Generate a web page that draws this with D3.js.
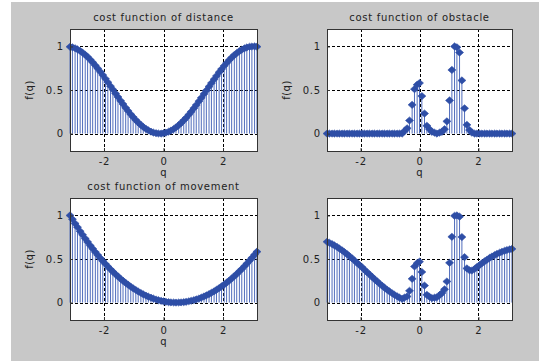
<!DOCTYPE html>
<html>
<head>
<meta charset="utf-8">
<script src="https://cdn.jsdelivr.net/npm/d3@7"></script>
<style>
  body { margin: 0; padding: 0; background: #fff; }
  svg text { font-family: "DejaVu Sans", "Liberation Sans", Arial, sans-serif; fill: #222; }
</style>
</head>
<body>
<svg id="fig" width="539" height="361"></svg>
<script>
// sample positions q (rad)
const qVals = [-3.14,-3.06,-2.97,-2.89,-2.80,-2.72,-2.63,-2.55,-2.46,-2.38,
  -2.29,-2.21,-2.12,-2.04,-1.95,-1.87,-1.78,-1.70,-1.61,-1.53,
  -1.44,-1.36,-1.27,-1.19,-1.10,-1.02,-0.93,-0.85,-0.76,-0.68,
  -0.59,-0.51,-0.42,-0.34,-0.25,-0.17,-0.08,0.00,0.08,0.17,
  0.25,0.34,0.42,0.51,0.59,0.68,0.76,0.85,0.93,1.02,
  1.10,1.19,1.27,1.36,1.44,1.53,1.61,1.70,1.78,1.87,
  1.95,2.04,2.12,2.21,2.29,2.38,2.46,2.55,2.63,2.72,
  2.80,2.89,2.97,3.06,3.14];

const distanceCost = [0.996,0.990,0.979,0.966,0.948,0.928,0.904,0.879,0.848,0.818,
  0.782,0.748,0.708,0.671,0.629,0.589,0.544,0.505,0.460,0.420,
  0.376,0.338,0.296,0.260,0.221,0.189,0.155,0.127,0.099,0.076,
  0.054,0.038,0.022,0.012,0.004,0.001,0.000,0.004,0.010,0.021,
  0.034,0.052,0.071,0.096,0.121,0.152,0.181,0.217,0.251,0.291,
  0.328,0.371,0.410,0.455,0.495,0.539,0.579,0.623,0.662,0.704,
  0.740,0.778,0.810,0.844,0.872,0.901,0.923,0.946,0.962,0.978,
  0.988,0.996,0.999,1.000,0.997];

const obstacleCost = [0,0,0,0,0,0,0,0,0,0,
  0,0,0,0,0,0,0,0,0,0,
  0,0,0,0,0,0,0,0,0,0,
  0,0.03,0.06,0.15,0.33,0.51,0.56,0.58,0.43,0.23,
  0.09,0.05,0.02,0.01,0,0.01,0.02,0.05,0.14,0.38,
  0.73,1.00,0.99,0.93,0.61,0.29,0.10,0.04,0.01,0,
  0,0,0,0,0,0,0,0,0,0,
  0,0,0,0,0];

const movementCost = [1.000,0.956,0.907,0.865,0.818,0.778,0.734,0.696,0.654,0.619,
  0.579,0.546,0.509,0.477,0.443,0.414,0.382,0.355,0.325,0.300,
  0.273,0.250,0.225,0.205,0.182,0.164,0.144,0.127,0.110,0.095,
  0.080,0.068,0.056,0.046,0.035,0.027,0.020,0.014,0.009,0.005,
  0.002,0.001,0.000,0.001,0.002,0.005,0.009,0.015,0.021,0.028,
  0.036,0.047,0.057,0.070,0.082,0.097,0.112,0.129,0.146,0.166,
  0.185,0.207,0.228,0.253,0.276,0.303,0.328,0.358,0.385,0.417,
  0.447,0.481,0.513,0.550,0.584];

const totalCost = [0.698,0.686,0.671,0.656,0.638,0.620,0.599,0.579,0.555,0.533,
  0.507,0.483,0.456,0.431,0.404,0.378,0.348,0.324,0.295,0.270,
  0.243,0.219,0.193,0.171,0.147,0.128,0.107,0.089,0.072,0.057,
  0.043,0.057,0.070,0.135,0.273,0.414,0.452,0.469,0.351,0.195,
  0.089,0.066,0.052,0.056,0.061,0.085,0.109,0.152,0.242,0.456,
  0.755,0.995,1.000,0.986,0.752,0.521,0.392,0.370,0.368,0.385,
  0.407,0.430,0.451,0.473,0.491,0.512,0.528,0.545,0.558,0.572,
  0.583,0.594,0.603,0.610,0.616];

const xTicks = [-2, 0, 2];
const yTicks = [0, 0.5, 1];
const yTickLabels = ["0", "0.5", "1"];

const titles = ["cost function of distance", "cost function of obstacle", "cost function of movement", ""];
const xLabels = ["q", "q", "q", ""];
const yLabels = ["f(q)", "f(q)", "f(q)", ""];
const series = [distanceCost, obstacleCost, movementCost, totalCost];

// panel boxes: left, top, width, height
const boxes = [
  [70, 29, 187, 122],
  [327, 29, 185, 122],
  [70, 198, 187, 122],
  [327, 198, 185, 122]
];

const svg = d3.select("#fig");
svg.append("rect").attr("x", 11).attr("y", 2).attr("width", 528).attr("height", 359).attr("fill", "#c8c8c8");

const markColor = "#2e4ea6";
const stemColor = "#3d5cb4";

boxes.forEach((b, i) => {
  const [left, top, w, h] = b;
  const x = d3.scaleLinear().domain([-Math.PI, Math.PI]).range([0, w]);
  const y = d3.scaleLinear().domain([-0.2, 1.2]).range([h, 0]);
  const g = svg.append("g").attr("transform", `translate(${left},${top})`);

  g.append("rect").attr("width", w).attr("height", h).attr("fill", "#fff");

  // grid
  g.selectAll(".gx").data(xTicks).enter().append("line")
    .attr("x1", d => Math.round(x(d)) + 0.5).attr("x2", d => Math.round(x(d)) + 0.5)
    .attr("y1", 0).attr("y2", h)
    .attr("stroke", "#000").attr("stroke-width", 1).attr("stroke-dasharray", "3,2");
  g.selectAll(".gy").data(yTicks).enter().append("line")
    .attr("y1", d => Math.round(y(d)) + 0.5).attr("y2", d => Math.round(y(d)) + 0.5)
    .attr("x1", 0).attr("x2", w)
    .attr("stroke", "#000").attr("stroke-width", 1).attr("stroke-dasharray", "3,2");

  const data = qVals.map((q, k) => [q, series[i][k]]);

  // stems
  g.selectAll(".stem").data(data).enter().append("line")
    .attr("x1", d => x(d[0])).attr("x2", d => x(d[0]))
    .attr("y1", y(0)).attr("y2", d => y(d[1]))
    .attr("stroke", stemColor).attr("stroke-width", 0.9);

  // diamond markers
  const hw = 4, hh = 3.6;
  g.selectAll(".mk").data(data).enter().append("path")
    .attr("d", d => {
      const cx = x(d[0]), cy = y(d[1]);
      return `M${cx},${cy - hh}L${cx + hw},${cy}L${cx},${cy + hh}L${cx - hw},${cy}Z`;
    })
    .attr("fill", markColor).attr("stroke", markColor).attr("stroke-width", 0.6);

  // axes
  const ax = g.append("g").attr("transform", `translate(0,${h})`)
    .call(d3.axisBottom(x).tickValues(xTicks).tickFormat(d3.format("d")).tickSizeInner(-3).tickSizeOuter(0).tickPadding(7));
  const ay = g.append("g")
    .call(d3.axisLeft(y).tickValues(yTicks).tickFormat((d, j) => yTickLabels[j]).tickSizeInner(-3).tickSizeOuter(0).tickPadding(6));
  [ax, ay].forEach(a => {
    a.select(".domain").remove();
    a.selectAll("line").attr("stroke", "#333");
    a.selectAll("text").attr("font-size", 10).attr("fill", "#222")
      .style("font-family", "'DejaVu Sans', sans-serif")
      .style("letter-spacing", "0.8px");
  });
  ax.selectAll("text").text(d => d < 0 ? "-" + Math.abs(d) : d);

  g.append("rect").attr("x", 0.5).attr("y", 0.5).attr("width", w).attr("height", h)
    .attr("fill", "none").attr("stroke", "#333").attr("stroke-width", 1);

  if (titles[i]) {
    g.append("text").attr("x", w / 2).attr("y", -8.5).attr("text-anchor", "middle")
      .attr("font-size", 10).style("letter-spacing", "0.7px").text(titles[i]);
  }
  if (xLabels[i]) {
    g.append("text").attr("x", x(0)).attr("y", h + 24.5).attr("text-anchor", "middle")
      .attr("font-size", 10).text(xLabels[i]);
  }
  if (yLabels[i]) {
    g.append("text").attr("transform", `translate(-37,${h / 2}) rotate(-90)`)
      .attr("text-anchor", "middle").attr("font-size", 10).style("letter-spacing", "0.5px").text(yLabels[i]);
  }
});
</script>
</body>
</html>
